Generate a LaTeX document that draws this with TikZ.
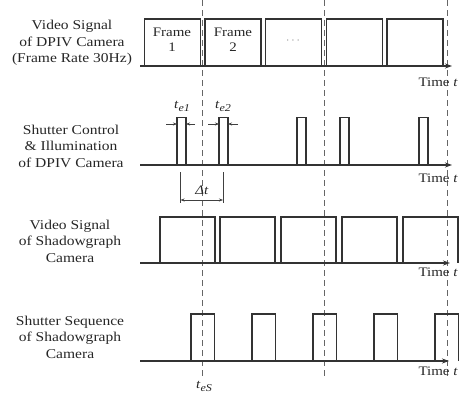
\documentclass[tikz,border=0pt]{standalone}
\usepackage{fontspec}
\setmainfont[FakeStretch=1.15]{Liberation Serif}
\usetikzlibrary{arrows.meta}

\newcommand{\subit}[2]{\textit{#1}\raisebox{-3pt}{\fontsize{10.5}{10.5}\selectfont\textit{#2}}}

\begin{document}
\begin{tikzpicture}[
    x=1pt, y=-1pt,
    sig/.style={black!80, line width=1.1pt},
    time-axis/.style={sig, -{Stealth[length=7pt, width=5pt]}},
    guide/.style={black!60, line width=0.7pt, dash pattern=on 6pt off 4pt},
    dim-arrow/.style={black!75, line width=0.6pt, -{Stealth[length=4pt, width=3pt]}},
    row-label/.style={align=center, inner sep=0pt, text=black!85,
        font=\fontsize{13.5}{16.5}\selectfont},
    time-label/.style={anchor=base east, inner sep=0pt, text=black!85,
        font=\fontsize{13}{15}\selectfont},
    small-label/.style={inner sep=0pt, text=black!85, font=\fontsize{13}{15}\selectfont}
]
    \useasboundingbox (0,0) rectangle (460,394);

    % Vertical guides through the frame boundaries
    \foreach \gx [count=\i] in {202, 324, 447} {
        \coordinate (g\i-top) at (\gx, 0);
        \coordinate (g\i-bot) at (\gx, 377);
        \draw[guide] (g\i-top) -- (g\i-bot);
    }

    % Row 1: video signal of DPIV camera
    \node[row-label] (lab1) at (72, 43) {Video Signal\\of DPIV Camera\\(Frame Rate 30Hz)};
    \foreach \l in {144.5, 205, 265.5, 326.5, 387}
        \draw[sig] (\l, 66) |- (\l+56, 19) -- (\l+56, 66);
    \node[small-label, align=center] (frame1) at (172, 40) {Frame\\1};
    \node[small-label, align=center] (frame2) at (233, 40) {Frame\\2};
    \node[small-label, text=black!45] (more) at (293, 41) {$\cdots$};
    \coordinate (ax1-s) at (140, 66);
    \coordinate (ax1-e) at (452, 66);
    \draw[time-axis] (ax1-s) -- (ax1-e);
    \node[time-label] (time1) at (458, 86) {Time \textit{t}};

    % Row 2: shutter control & illumination of DPIV camera
    \node[row-label] (lab2) at (71, 146) {Shutter Control\\\& Illumination\\of DPIV Camera};
    \foreach \l in {177, 219, 297, 340, 419}
        \draw[sig] (\l, 165) |- (\l+9, 117.5) -- (\l+9, 165);
    \coordinate (ax2-s) at (140, 165);
    \coordinate (ax2-e) at (452, 165);
    \draw[time-axis] (ax2-s) -- (ax2-e);
    \node[time-label] (time2) at (458, 182) {Time \textit{t}};

    % exposure times of the two pulses
    \coordinate (p1-l) at (177, 124);
    \coordinate (p1-r) at (186, 124);
    \coordinate (p2-l) at (219, 124);
    \coordinate (p2-r) at (228, 124);
    \draw[dim-arrow] ([xshift=-11pt]p1-l) -- (p1-l);
    \draw[dim-arrow] ([xshift=9pt]p1-r) -- (p1-r);
    \draw[dim-arrow] ([xshift=-11pt]p2-l) -- (p2-l);
    \draw[dim-arrow] ([xshift=10pt]p2-r) -- (p2-r);
    \node[small-label] (te1) at (182, 106) {\subit{t}{e1}};
    \node[small-label] (te2) at (223, 106) {\subit{t}{e2}};

    % pulse separation
    \coordinate (dt-a) at (180.5, 172);
    \coordinate (dt-b) at (223, 172);
    \draw[black!75, line width=0.6pt] (dt-a) -- ++(0, 31);
    \draw[black!75, line width=0.6pt] (dt-b) -- ++(0, 31);
    \draw[dim-arrow, {Stealth[length=4pt, width=3pt]}-{Stealth[length=4pt, width=3pt]}]
        ([yshift=-28pt]dt-a) -- ([yshift=-28pt]dt-b);
    \node[small-label] (dt) at (202, 190) {\textit{Δt}};

    % Row 3: video signal of shadowgraph camera
    \node[row-label] (lab3) at (70, 241) {Video Signal\\of Shadowgraph\\Camera};
    \foreach \l in {160, 220, 281, 342, 403}
        \draw[sig] (\l, 263) |- (\l+55, 217) -- (\l+55, 263);
    \coordinate (ax3-s) at (140, 263);
    \coordinate (ax3-e) at (450, 263);
    \draw[time-axis] (ax3-s) -- (ax3-e);
    \node[time-label] (time3) at (458, 276) {Time \textit{t}};

    % Row 4: shutter sequence of shadowgraph camera
    \node[row-label] (lab4) at (70, 337) {Shutter Sequence\\of Shadowgraph\\Camera};
    \foreach \l in {191, 252, 313, 374, 435}
        \draw[sig] (\l, 361) |- (\l+23.5, 314) -- (\l+23.5, 361);
    \coordinate (ax4-s) at (140, 361);
    \coordinate (ax4-e) at (449, 361);
    \draw[time-axis] (ax4-s) -- (ax4-e);
    \node[time-label] (time4) at (458, 375) {Time \textit{t}};
    \node[small-label] (teS) at (204, 386) {\subit{t}{eS}};

\end{tikzpicture}
\end{document}
